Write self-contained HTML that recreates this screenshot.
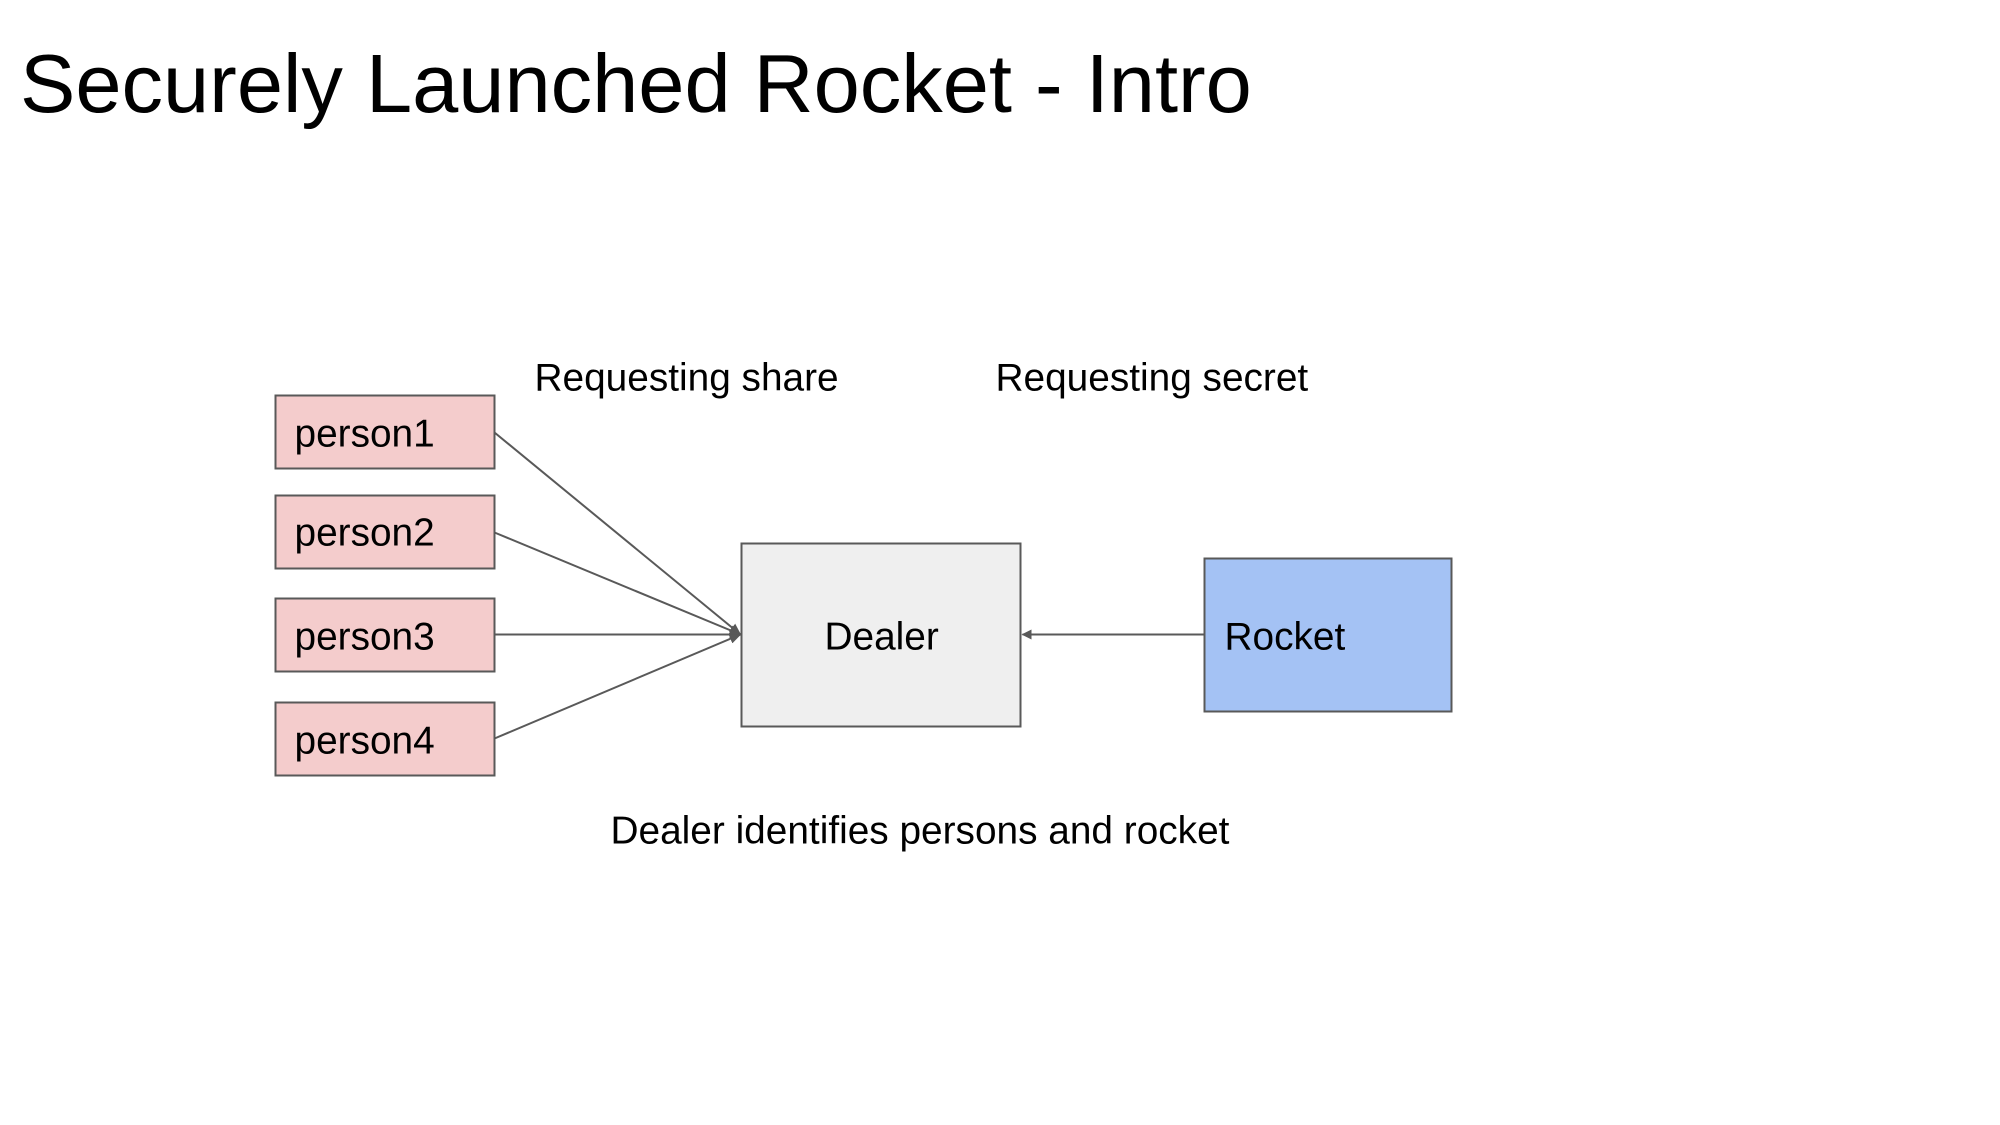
<!DOCTYPE html>
<html><head><meta charset="utf-8"><style>
html,body{margin:0;padding:0;background:#fff;}
body{width:2000px;height:1125px;position:relative;overflow:hidden;font-family:"Liberation Sans",Arial,sans-serif;}
</style></head><body>
<svg width="2000" height="1125" xmlns="http://www.w3.org/2000/svg" style="position:absolute;left:0;top:0">
<defs>
<marker id="a" markerWidth="10" markerHeight="10" refX="9" refY="5" orient="auto" markerUnits="userSpaceOnUse">
<path d="M0,0 L10,5 L0,10 z" fill="#595959"/></marker>
<marker id="b" markerWidth="12" markerHeight="12" refX="11" refY="6" orient="auto" markerUnits="userSpaceOnUse">
<path d="M0,1 L12,6 L0,11 z" fill="#595959"/></marker>
</defs>
<text x="20" y="112" font-family="Liberation Sans, Arial, sans-serif" font-size="83" fill="#000">Securely Launched Rocket - Intro</text>
<g transform="translate(-2.5,-1.5)">
<g font-family="Liberation Sans, Arial, sans-serif" font-size="38.8" fill="#000">
<text x="537" y="392">Requesting share</text>
<text x="998" y="392">Requesting secret</text>
<text x="613" y="845">Dealer identifies persons and rocket</text>
</g>
<g stroke="#595959" stroke-width="2">
<rect x="278" y="397" width="219" height="73" fill="#f4cccc"/>
<rect x="278" y="497" width="219" height="73" fill="#f4cccc"/>
<rect x="278" y="600" width="219" height="73" fill="#f4cccc"/>
<rect x="278" y="704" width="219" height="73" fill="#f4cccc"/>
<rect x="744" y="545" width="279" height="183" fill="#efefef"/>
<rect x="1207" y="560" width="247" height="153" fill="#a4c2f4"/>
<line x1="497" y1="434" x2="743" y2="636" marker-end="url(#b)"/>
<line x1="497" y1="534" x2="743" y2="636" marker-end="url(#b)"/>
<line x1="497" y1="636" x2="743" y2="636" marker-end="url(#b)"/>
<line x1="497" y1="740" x2="743" y2="636" marker-end="url(#b)"/>
<line x1="1207" y1="636" x2="1025" y2="636" marker-end="url(#a)"/>
</g>
<g font-family="Liberation Sans, Arial, sans-serif" font-size="38.8" fill="#000">
<text x="297" y="448">person1</text>
<text x="297" y="547">person2</text>
<text x="297" y="651">person3</text>
<text x="297" y="755">person4</text>
<text x="827" y="651">Dealer</text>
<text x="1227" y="651">Rocket</text>
</g>
</g>
</svg>
</body></html>
